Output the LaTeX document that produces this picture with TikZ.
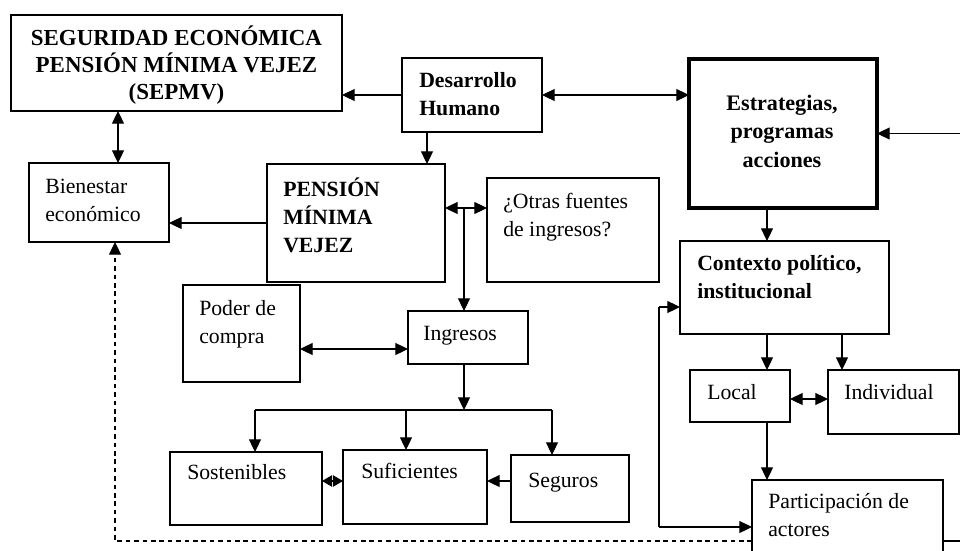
\documentclass[tikz,border=0pt]{standalone}
\usepackage{fontspec}
\setmainfont{Liberation Serif}
\usetikzlibrary{arrows.meta}
\newcommand\fsz{\fontsize{16.3}{21}\selectfont}
\newcommand\clin[1]{\hbox to 0pt{\hss#1\hss}}
\newcommand\llin[1]{\hbox{#1}}
\newcommand\bx[6][]{\node[box,#1,anchor=north west,minimum width={(#5-#3)*0.75pt},minimum height={(#6-#4)*0.75pt}] (#2) at (#3,#4) {};}
\tikzset{
  box/.style={draw=black,line width=0.8pt,inner sep=0pt,outer sep=0pt,fill=white},
  thickbox/.style={line width=2.6pt},
  txt/.style={inner sep=0pt,anchor=base west,font=\fsz},
  btxt/.style={txt,font=\fsz\bfseries},
  conn/.style={line width=0.8pt,draw=black},
  tip/.tip={Triangle[length=9.5pt,width=9pt]},
  arr/.style={conn,-tip},
  dbl/.style={conn,tip-tip},
  sdbl/.style={conn,{Triangle[length=7.5pt,width=8.5pt]}-{Triangle[length=7.5pt,width=8.5pt]}},
  dashline/.style={conn,dash pattern=on 3.5pt off 2.8pt}
}
\begin{document}
\begin{tikzpicture}[x=0.75pt,y=-0.75pt]
\useasboundingbox (0,0) rectangle (960,550);
\clip (0,0) rectangle (960,550);
\fill[white] (0,0) rectangle (960,550);
% boxes
\bx{sep}{11}{15}{342}{111}
\bx{des}{402}{58}{542}{132}
\bx[thickbox]{est}{689}{59}{877}{208}
\bx{bien}{29}{163}{169}{242}
\bx{pen}{267}{164}{445}{282}
\bx{otr}{487}{178}{659}{282}
\bx{pod}{183}{285}{300}{382}
\bx{ing}{408}{311}{528}{364}
\bx{sost}{170}{452}{322}{525}
\bx{suf}{343}{450}{487}{524}
\bx{seg}{511}{455}{629}{522}
\bx{ctx}{680}{241}{889}{334}
\bx{loc}{690}{370}{790}{422}
\bx{ind}{828}{370}{959}{434}
\bx{part}{752}{480}{943}{565}
% texts
\node[btxt,anchor=base,font=\fontsize{17.2}{20.6}\selectfont\bfseries] (t-sep) at (176.5,45) {\vtop{\clin{SEGURIDAD ECONÓMICA}\clin{PENSIÓN MÍNIMA VEJEZ}\clin{(SEPMV)}}};
\node[btxt] (t-des) at (419,87) {\vtop{\llin{Desarrollo}\llin{Humano}}};
\node[btxt,anchor=base,font=\fontsize{16.6}{21.4}\selectfont\bfseries] (t-est) at (782,110) {\vtop{\clin{Estrategias,}\clin{programas}\clin{acciones}}};
\node[txt] (t-bien) at (45,193) {\vtop{\llin{Bienestar}\llin{económico}}};
\node[btxt] (t-pen) at (283,196) {\vtop{\llin{PENSIÓN}\llin{MÍNIMA}\llin{VEJEZ}}};
\node[txt] (t-otr) at (503,208) {\vtop{\llin{¿Otras fuentes}\llin{de ingresos?}}};
\node[txt] (t-pod) at (199,315) {\vtop{\llin{Poder de}\llin{compra}}};
\node[txt] (t-ing) at (423,340) {Ingresos};
\node[txt] (t-sost) at (187,479) {Sostenibles};
\node[txt] (t-suf) at (361,478) {Suficientes};
\node[txt] (t-seg) at (528,487) {Seguros};
\node[btxt] (t-ctx) at (697,270) {\vtop{\llin{Contexto político,}\llin{institucional}}};
\node[txt] (t-loc) at (707,399) {Local};
\node[txt] (t-ind) at (844,399) {Individual};
\node[txt] (t-part) at (768,508) {\vtop{\llin{Participación de}\llin{actores}}};
% connector coordinates
\coordinate (xa) at (118,0);
\coordinate (xb) at (427,0);
\coordinate (yb) at (0,208);
\coordinate (xc) at (464,208);
\coordinate (yc) at (0,349);
\coordinate (br) at (464,410);
\coordinate (bl) at (255,410);
\coordinate (bm) at (406,410);
\coordinate (brr) at (552,410);
\coordinate (yd) at (0,481);
\coordinate (xe) at (767,0);
\coordinate (xf) at (842,0);
\coordinate (yf) at (0,399);
\coordinate (lt) at (659,307);
\coordinate (lb) at (659,527);
\coordinate (dk) at (115,541);
\coordinate (re) at (960,541);
\coordinate (rin) at (960,133.5);
% connectors
\draw[dbl] (sep.south -| xa) -- (bien.north -| xa);
\draw[arr] (des.west) -- (des.west -| sep.east);
\draw[dbl] (des.east) -- (des.east -| est.west);
\draw[arr] (rin) -- (est.east);
\draw[arr] (des.south -| xb) -- (pen.north -| xb);
\draw[arr] (pen.west) -- (pen.west -| bien.east);
\draw[dbl] (pen.east |- yb) -- (otr.west |- yb);
\draw[arr] (xc) -- (ing.north -| xc);
\draw[dbl] (pod.east |- yc) -- (ing.west |- yc);
\draw[arr] (ing.south -| br) -- (br);
\draw[conn] (bl) -- (brr);
\draw[arr] (bl) -- (sost.north -| bl);
\draw[arr] (bm) -- (suf.north -| bm);
\draw[arr] (brr) -- (seg.north -| brr);
\draw[arr] (seg.west |- yd) -- (suf.east |- yd);
\draw[sdbl] (sost.east |- yd) -- (suf.west |- yd);
\draw[arr] (est.south -| xe) -- (ctx.north -| xe);
\draw[arr] (ctx.south -| xe) -- (loc.north -| xe);
\draw[arr] (loc.south -| xe) -- (part.north -| xe);
\draw[arr] (ctx.south -| xf) -- (ind.north -| xf);
\draw[dbl] (loc.east |- yf) -- (ind.west |- yf);
\draw[arr] (lt) -- (lt -| ctx.west);
\draw[conn] (lt) -- (lb);
\draw[arr] (lb) -- (lb -| part.west);
\draw[dashline,-tip] (part.west |- dk) -- (dk) -- (bien.south -| dk);
\draw[conn] (part.east |- re) -- (re);
\end{tikzpicture}
\end{document}
